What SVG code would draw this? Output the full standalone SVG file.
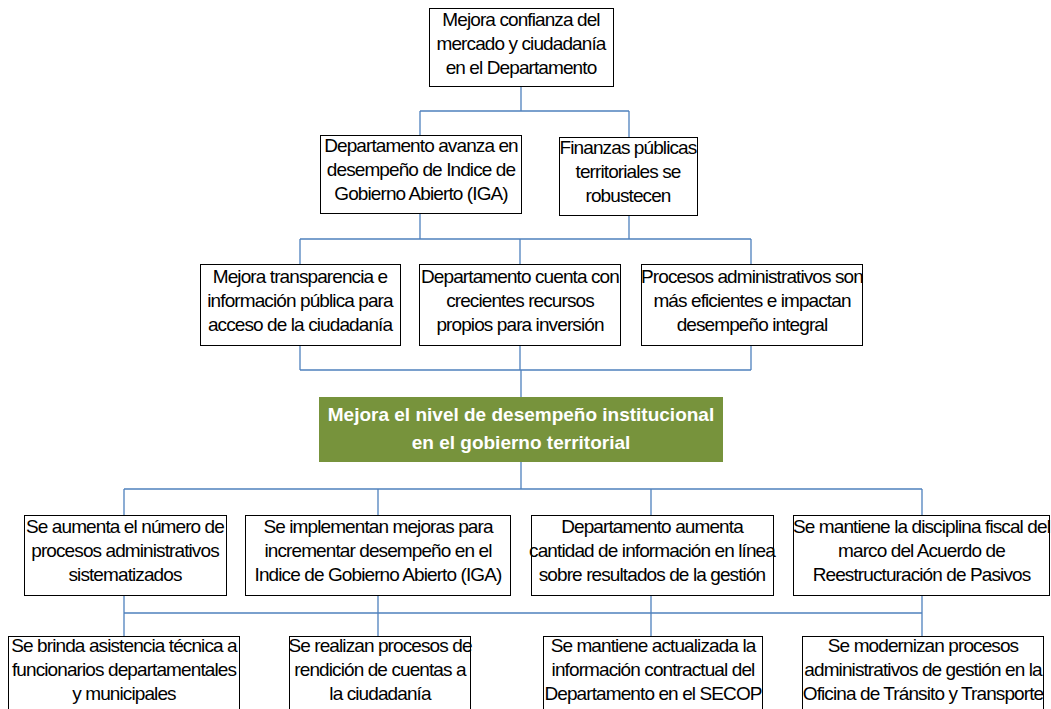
<svg xmlns="http://www.w3.org/2000/svg" width="1051" height="709" viewBox="0 0 1051 709">
<style>
.box{fill:#fff;stroke:#000;stroke-width:1}
.t{font-family:"Liberation Sans",Arial,sans-serif;font-size:19px;letter-spacing:-0.9px;fill:#000;text-anchor:middle}
.g{font-family:"Liberation Sans",Arial,sans-serif;font-size:19px;font-weight:bold;fill:#fff;text-anchor:middle}
.c{fill:none;stroke:#4F81BD;stroke-width:1.3}
</style>
<rect width="1051" height="709" fill="#fff"/>
<g id="connectors">
<path class="c" d="M521 86V111M420 111H629M420 111V135M629 111V137"/>
<path class="c" d="M420 213V239M629 215V239M300 239H751M300 239V264M520 239V264M751 239V264"/>
<path class="c" d="M300 345V370M520 345V370M751 345V370M300 370H751M521 370V397"/>
<path class="c" d="M521 462V489M124 489H922M124 489V515M378 489V515M651 489V515M922 489V515"/>
<path class="c" d="M124 595V613M378 595V613M651 595V613M922 595V613M124 613H922M124 613V636M378 613V636M651 613V636M922 613V636"/>
</g>
<g id="n1"><rect class="box" x="429.5" y="8.5" width="184" height="78"/>
<text class="t" x="521" y="26">Mejora confianza del</text><text class="t" x="521" y="50">mercado y ciudadanía</text><text class="t" x="521" y="74">en el Departamento</text></g>
<g id="n2a"><rect class="box" x="320.5" y="135.5" width="201" height="78"/>
<text class="t" x="421" y="152">Departamento avanza en</text><text class="t" x="421" y="176">desempeño de Indice de</text><text class="t" x="421" y="200">Gobierno Abierto (IGA)</text></g>
<g id="n2b"><rect class="box" x="559.5" y="137.5" width="138" height="78"/>
<text class="t" x="628" y="154">Finanzas públicas</text><text class="t" x="628" y="178">territoriales se</text><text class="t" x="628" y="202">robustecen</text></g>
<g id="n3a"><rect class="box" x="200.5" y="264.5" width="200" height="81"/>
<text class="t" x="300" y="283">Mejora transparencia e</text><text class="t" x="300" y="307">información pública para</text><text class="t" x="300" y="331">acceso de la ciudadanía</text></g>
<g id="n3b"><rect class="box" x="419.5" y="264.5" width="201" height="81"/>
<text class="t" x="520" y="283">Departamento cuenta con</text><text class="t" x="520" y="307">crecientes recursos</text><text class="t" x="520" y="331">propios para inversión</text></g>
<g id="n3c"><rect class="box" x="641.5" y="264.5" width="221" height="81"/>
<text class="t" x="752" y="283">Procesos administrativos son</text><text class="t" x="752" y="307">más eficientes e impactan</text><text class="t" x="752" y="331">desempeño integral</text></g>
<g id="goal"><rect x="319" y="397" width="404" height="65" fill="#77933C"/>
<text class="g" x="521" y="420.5">Mejora el nivel de desempeño institucional</text><text class="g" x="521" y="448.5">en el gobierno territorial</text></g>
<g id="n4a"><rect class="box" x="24.5" y="515.5" width="202" height="80"/>
<text class="t" x="125" y="533">Se aumenta el número de</text><text class="t" x="125" y="557">procesos administrativos</text><text class="t" x="125" y="581">sistematizados</text></g>
<g id="n4b"><rect class="box" x="245.5" y="515.5" width="265" height="80"/>
<text class="t" x="378" y="533">Se implementan mejoras para</text><text class="t" x="378" y="557">incrementar desempeño en el</text><text class="t" x="378" y="581">Indice de Gobierno Abierto (IGA)</text></g>
<g id="n4c"><rect class="box" x="531.5" y="515.5" width="242" height="80"/>
<text class="t" x="652" y="533">Departamento aumenta</text><text class="t" x="652" y="557">cantidad de información en línea</text><text class="t" x="652" y="581">sobre resultados de la gestión</text></g>
<g id="n4d"><rect class="box" x="793.5" y="515.5" width="256" height="80"/>
<text class="t" x="921.5" y="533">Se mantiene la disciplina fiscal del</text><text class="t" x="921.5" y="557">marco del Acuerdo de</text><text class="t" x="921.5" y="581">Reestructuración de Pasivos</text></g>
<g id="n5a"><rect class="box" x="8.5" y="636.5" width="231" height="80"/>
<text class="t" x="124" y="652">Se brinda asistencia técnica a</text><text class="t" x="124" y="676">funcionarios departamentales</text><text class="t" x="124" y="700">y municipales</text></g>
<g id="n5b"><rect class="box" x="289.5" y="636.5" width="181" height="80"/>
<text class="t" x="380" y="652">Se realizan procesos de</text><text class="t" x="380" y="676">rendición de cuentas a</text><text class="t" x="380" y="700">la ciudadanía</text></g>
<g id="n5c"><rect class="box" x="543.5" y="636.5" width="219" height="80"/>
<text class="t" x="653" y="652">Se mantiene actualizada la</text><text class="t" x="653" y="676">información contractual del</text><text class="t" x="653" y="700">Departamento en el SECOP</text></g>
<g id="n5d"><rect class="box" x="802.5" y="636.5" width="241" height="80"/>
<text class="t" x="923" y="652">Se modernizan procesos</text><text class="t" x="923" y="676">administrativos de gestión en la</text><text class="t" x="923" y="700">Oficina de Tránsito y Transporte</text></g>
</svg>
